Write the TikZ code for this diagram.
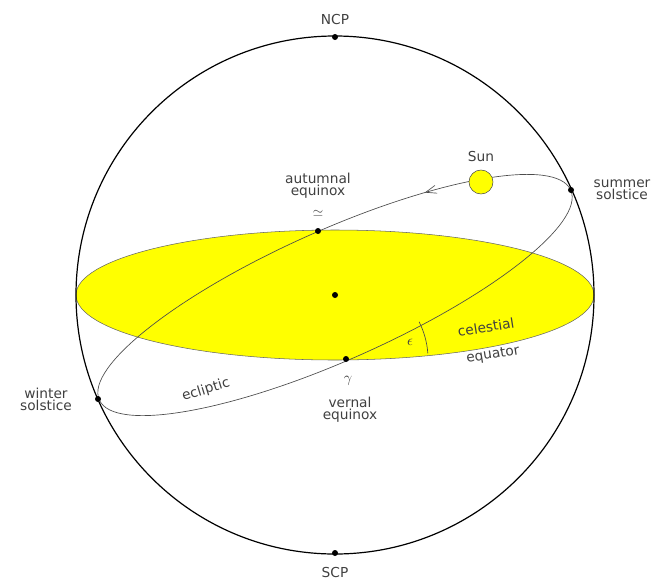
\documentclass[tikz,border=0pt]{standalone}
\usepackage{fontspec}
\setmainfont{DejaVu Sans}
\usetikzlibrary{arrows.meta,decorations.markings}
\begin{document}
\begin{tikzpicture}[x=0.75pt,y=-0.75pt,
  lbl/.style={font=\fontsize{10.3}{11}\selectfont, text=black!75, align=center, inner sep=1pt},
  dot/.style={circle, fill=black, inner sep=0pt, minimum size=4.5pt}]
\useasboundingbox (0,0) rectangle (667,586);
\definecolor{yel}{RGB}{255,255,0}
\coordinate (O) at (335,295);
\fill[yel] (O) ellipse [x radius=259, y radius=65];
\draw[black!60, line width=0.4pt] (O) ellipse [x radius=259, y radius=65];
\draw[line width=0.9pt] (O) circle [radius=259];
\draw[black!70, line width=0.5pt, rotate around={24:(335,295)},
  postaction={decorate, decoration={markings, mark=at position 0.862 with {\arrowreversed{Straight Barb[length=8pt,width=6pt]}}}}]
  (O) ellipse [x radius=258, y radius=65];
\node[dot] (ncp) at (335,37) {};
\node[dot] (scp) at (335,553) {};
\node[dot] (c) at (O) {};
\node[dot] (ss) at (571,190) {};
\node[dot] (ws) at (98,399) {};
\node[dot] (ae) at (318,231) {};
\node[dot] (ve) at (346,359) {};
\node[circle, draw=black!70, fill=yel, minimum size=18pt, inner sep=0pt] (sun) at (481,182) {};
\draw[black!70, line width=0.5pt] (ve) ++(-27:82) arc[start angle=-27, end angle=-4, radius=82];
\node[lbl] at (335,19) {NCP};
\node[lbl] at (335,572) {SCP};
\node[lbl] at (481,156) {Sun};
\node[lbl] at (622,190) {summer\\[-2pt]solstice};
\node[lbl] at (46,399) {winter\\[-2pt]solstice};
\node[lbl] at (318,186) {autumnal\\[-2pt]equinox};
\node[lbl, font=\fontsize{10}{10}\selectfont] at (318,213) {$\simeq$};
\node[lbl, font=\fontsize{11}{11}\selectfont] at (348,381) {$\gamma$};
\node[lbl] at (350,410) {vernal\\[-2pt]equinox};
\node[lbl, rotate=17] at (206,390) {ecliptic};
\node[lbl, font=\fontsize{11}{11}\selectfont] at (410,342) {$\epsilon$};
\node[lbl, rotate=9] at (486,327) {celestial};
\node[lbl, rotate=9] at (493,355) {equator};
\end{tikzpicture}
\end{document}
